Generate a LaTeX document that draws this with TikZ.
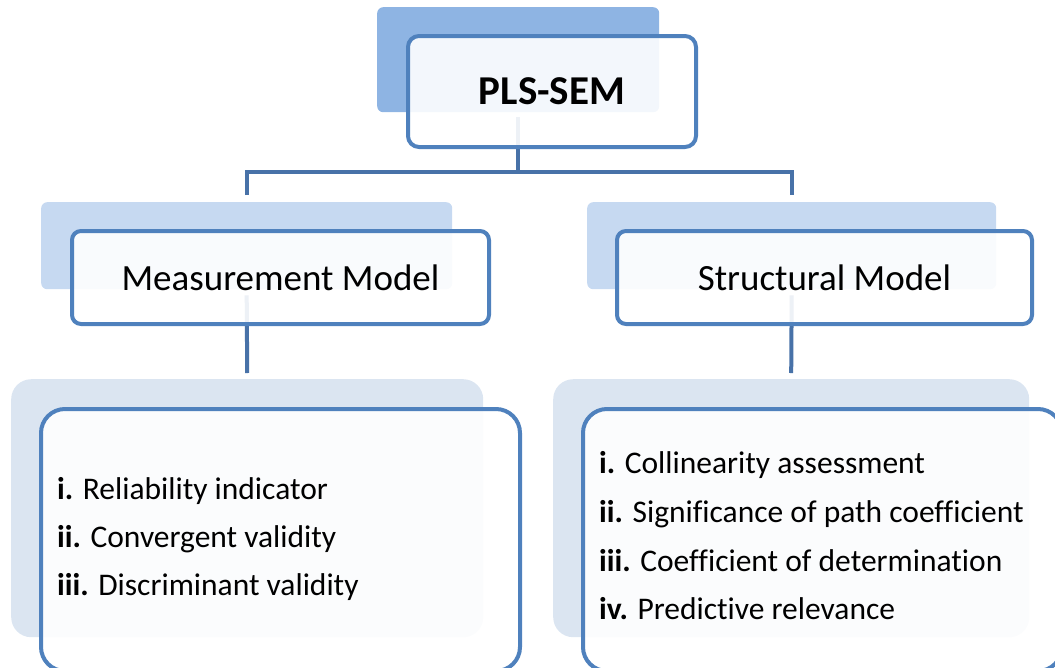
\documentclass[tikz,border=0pt]{standalone}
\usepackage{fontspec}
\setmainfont{Carlito}[Ligatures={NoCommon}]
\definecolor{backA}{HTML}{8EB4E3}
\definecolor{backB}{HTML}{C6D9F1}
\definecolor{backC}{HTML}{DBE5F1}
\definecolor{boxline}{HTML}{4F81BD}
\definecolor{connline}{RGB}{72,114,168}
\begin{document}
\begin{tikzpicture}[x=1pt,y=-1pt,
  backbox/.style={rectangle, draw=none, inner sep=0pt, anchor=north west},
  frontbox/.style={rectangle, draw=boxline, line width=4pt, fill=white, fill opacity=0.9, text opacity=1, inner sep=0pt, anchor=north west},
  conn/.style={draw=connline, line width=4pt},
  itemtext/.style={anchor=base west, inner sep=0pt, font=\fontsize{31.5}{36}\selectfont},
  titletext/.style={font=\fontsize{37}{44}\selectfont}
]
\useasboundingbox (0,0) rectangle (1055,667);
\clip (0,0) rectangle (1055,667);

% background rectangles
\node[backbox, fill=backA, rounded corners=6pt, minimum width=282pt, minimum height=105pt] (topback) at (377,7) {};
\node[backbox, fill=backB, rounded corners=6pt, minimum width=411pt, minimum height=87pt] (mmback) at (41,202) {};
\node[backbox, fill=backB, rounded corners=6pt, minimum width=409pt, minimum height=87pt] (smback) at (587,202) {};
\node[backbox, fill=backC, rounded corners=20pt, minimum width=472pt, minimum height=258pt] (mlback) at (11,379) {};
\node[backbox, fill=backC, rounded corners=20pt, minimum width=476pt, minimum height=258pt] (slback) at (553,379) {};

% connectors
\coordinate (hbar) at (0,172);
\draw[conn] ([yshift=-5pt]topback.south) -- (topback.south |- hbar);
\draw[conn] ([yshift=7pt]mmback.north) -- (mmback.north |- hbar) -- (smback.north |- hbar) -- ([yshift=7pt]smback.north);
\draw[conn] ([yshift=-6pt]mmback.south) -- ([yshift=6pt]mlback.north);
\draw[conn] ([yshift=-6pt]smback.south) -- ([yshift=6pt]slback.north);

% front boxes
\node[frontbox, rounded corners=11pt, minimum width=288pt, minimum height=111pt,
      font=\fontsize{41}{49}\selectfont\bfseries] (pls) at (406,34) {PLS-SEM};
\node[frontbox, rounded corners=9pt, minimum width=417pt, minimum height=93pt, titletext] (mm) at (70,229) {Measurement Model};
\node[frontbox, rounded corners=9pt, minimum width=415pt, minimum height=93pt, titletext] (sm) at (615,229) {Structural Model};
\node[frontbox, rounded corners=24pt, minimum width=479pt, minimum height=262pt] (ml) at (39,407) {};
\node[frontbox, rounded corners=24pt, minimum width=479pt, minimum height=262pt] (sl) at (581,407) {};

% items
\node[itemtext] (m1) at (57,499) {\textbf{i.} Reliability indicator};
\node[itemtext] (m2) at (57,547) {\textbf{ii.} Convergent validity};
\node[itemtext] (m3) at (57,595) {\textbf{iii.} Discriminant validity};

\node[itemtext] (s1) at (599,473) {\textbf{i.} Collinearity assessment};
\node[itemtext] (s2) at (599,522) {\textbf{ii.} Significance of path coefficient};
\node[itemtext] (s3) at (599,571) {\textbf{iii.} Coefficient of determination};
\node[itemtext] (s4) at (599,619) {\textbf{iv.} Predictive relevance};
\end{tikzpicture}
\end{document}
